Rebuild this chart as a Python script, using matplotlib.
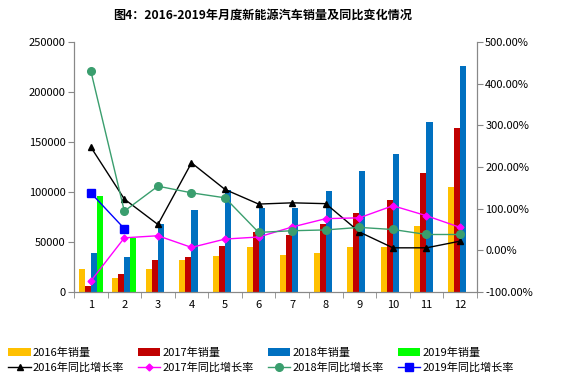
import matplotlib
matplotlib.use('Agg')
import matplotlib.pyplot as plt
import numpy as np

plt.rcParams['font.family'] = ['Noto Sans CJK SC', 'DejaVu Sans']
plt.rcParams['axes.unicode_minus'] = False

# 月份
months = ['1', '2', '3', '4', '5', '6', '7', '8', '9', '10', '11', '12']

# 销量 (辆)
sales_2016 = [22700, 14000, 22700, 31700, 35700, 44700, 36700, 38700, 44700, 44700, 65700, 104700]
sales_2017 = [6000, 18000, 31700, 34700, 45700, 59700, 56700, 68300, 78700, 91700, 119300, 163700]
sales_2018 = [38700, 34700, 67700, 82300, 101700, 84300, 84300, 101300, 121300, 138300, 169700, 225700]
sales_2019 = [96300, 54000]

# 同比增长率 (%)
yoy_2016 = [248, 123, 62, 210, 146, 111, 114, 112, 44, 6, 6, 22]
yoy_2017 = [-74, 30, 35, 7, 27, 32, 56, 76, 78, 107, 83, 55]
yoy_2018 = [431, 94, 154, 138, 126, 43, 47, 49, 55, 50, 38, 38]
yoy_2019 = [138, 52]

fig = plt.figure(figsize=(5.67, 3.89), dpi=100)
ax1 = fig.add_axes([0.1305, 0.2494, 0.7105, 0.6426])
ax2 = ax1.twinx()

x = np.arange(len(months))
w = 0.18
ax1.bar(x - 1.5 * w, sales_2016, w, color='#FFC000', label='2016年销量')
ax1.bar(x - 0.5 * w, sales_2017, w, color='#C00000', label='2017年销量')
ax1.bar(x + 0.5 * w, sales_2018, w, color='#0070C0', label='2018年销量')
ax1.bar(x[:len(sales_2019)] + 1.5 * w, sales_2019, w, color='#00FF00', label='2019年销量')

ax2.plot(x, yoy_2016, color='black', lw=1, marker='^', ms=5, label='2016年同比增长率')
ax2.plot(x, yoy_2017, color='#FF00FF', lw=1, marker='D', ms=3.5, label='2017年同比增长率')
ax2.plot(x, yoy_2018, color='#3A9E6E', lw=1, marker='o', ms=5.5, label='2018年同比增长率')
ax2.plot(x[:len(yoy_2019)], yoy_2019, color='#0000FF', lw=1, marker='s', ms=5.5,
         label='2019年同比增长率')

ax1.set_xlim(-0.5, len(months) - 0.5)
ax1.set_ylim(0, 250000)
ax1.set_yticks(np.arange(0, 250001, 50000))
ax1.set_yticklabels([f'{v:d}' for v in range(0, 250001, 50000)], fontsize=8)
ax2.set_ylim(-100, 500)
ax2.set_yticks(np.arange(-100, 501, 100))
ax2.set_yticklabels([f'{v:.2f}%' for v in range(-100, 501, 100)], fontsize=8)

ax1.set_xticks(x)
ax1.set_xticklabels(months, fontsize=8)
ax1.set_xticks(np.arange(-0.5, len(months)), minor=True)
ax1.tick_params(axis='x', which='major', length=0, pad=6)
ax1.tick_params(axis='x', which='minor', length=4, color='#888888')
ax1.tick_params(axis='y', length=4, color='#888888', pad=2)
ax2.tick_params(axis='y', length=4, color='#888888', pad=2)

for ax in (ax1, ax2):
    ax.spines['top'].set_visible(False)
    for s in ('left', 'right', 'bottom'):
        ax.spines[s].set_color('#888888')
        ax.spines[s].set_linewidth(0.8)

fig.text(0.463, 0.962, '图4：2016-2019年月度新能源汽车销量及同比变化情况',
         ha='center', va='center', fontsize=8.7, fontweight='bold')

h1, l1 = ax1.get_legend_handles_labels()
h2, l2 = ax2.get_legend_handles_labels()
handles, labels = [], []
for i in range(4):
    handles += [h1[i], h2[i]]
    labels += [l1[i], l2[i]]
fig.legend(handles, labels, ncol=4, loc='center left', bbox_to_anchor=(0.005, 0.074),
           frameon=False, fontsize=8, handlelength=2.0, handleheight=0.6,
           handletextpad=0.2, columnspacing=1.25, labelspacing=0.4, borderpad=0)

fig.savefig('out.png', dpi=100)
